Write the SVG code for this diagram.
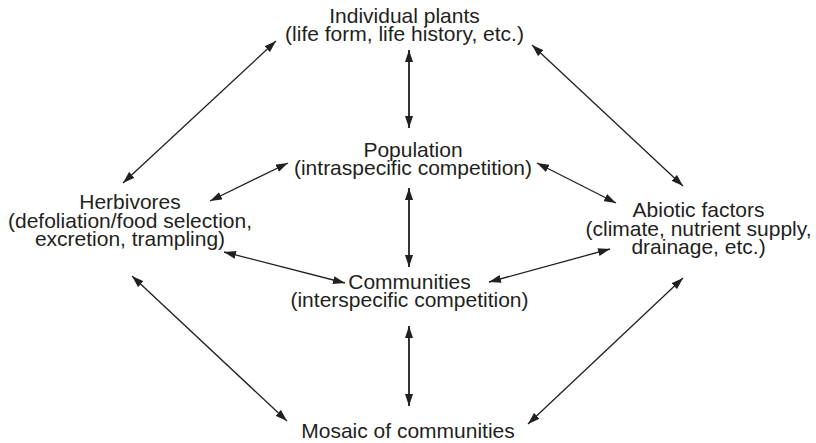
<svg xmlns="http://www.w3.org/2000/svg" width="816" height="443" viewBox="0 0 816 443">
<style>
text{font-family:"Liberation Sans",Arial,Helvetica,sans-serif;font-size:21px;fill:#231f20;text-anchor:middle}
.c{stroke:#231f20;stroke-width:1.3;fill:none;marker-start:url(#ah);marker-end:url(#ah)}
.v{stroke-width:1.8}
</style>
<defs>
<marker id="ah" viewBox="0 0 12 8" refX="12" refY="4" markerWidth="12" markerHeight="8" markerUnits="userSpaceOnUse" orient="auto-start-reverse">
<path d="M0,0 L12,4 L0,8 z" fill="#231f20"/>
</marker>
</defs>
<rect width="816" height="443" fill="#fff"/>
<g id="connectors">
<line class="c" x1="276" y1="41" x2="123" y2="183"/>
<line class="c" x1="532" y1="45" x2="683" y2="186"/>
<line class="c v" x1="409" y1="50" x2="409" y2="128"/>
<line class="c" x1="210" y1="201" x2="288" y2="163"/>
<line class="c" x1="537" y1="163" x2="616" y2="203"/>
<line class="c v" x1="409" y1="188" x2="409" y2="267"/>
<line class="c" x1="224" y1="252" x2="345" y2="283"/>
<line class="c" x1="610" y1="249" x2="489" y2="282"/>
<line class="c" x1="132" y1="276" x2="287" y2="421"/>
<line class="c" x1="683" y1="278" x2="528" y2="424"/>
<line class="c v" x1="409" y1="326" x2="409" y2="406"/>
</g>
<g id="individual-plants">
<text x="404.5" y="23">Individual plants</text>
<text x="404.5" y="41">(life form, life history, etc.)</text>
</g>
<g id="population">
<text x="413" y="156.5">Population</text>
<text x="413" y="174.5">(intraspecific competition)</text>
</g>
<g id="herbivores">
<text x="130" y="209">Herbivores</text>
<text x="130" y="227.5">(defoliation/food selection,</text>
<text x="130" y="246">excretion, trampling)</text>
</g>
<g id="abiotic-factors">
<text x="698.5" y="217">Abiotic factors</text>
<text x="698.5" y="235.5">(climate, nutrient supply,</text>
<text x="698.5" y="254">drainage, etc.)</text>
</g>
<g id="communities">
<text x="409.5" y="289">Communities</text>
<text x="409.5" y="307">(interspecific competition)</text>
</g>
<g id="mosaic">
<text x="408" y="438">Mosaic of communities</text>
</g>
</svg>
